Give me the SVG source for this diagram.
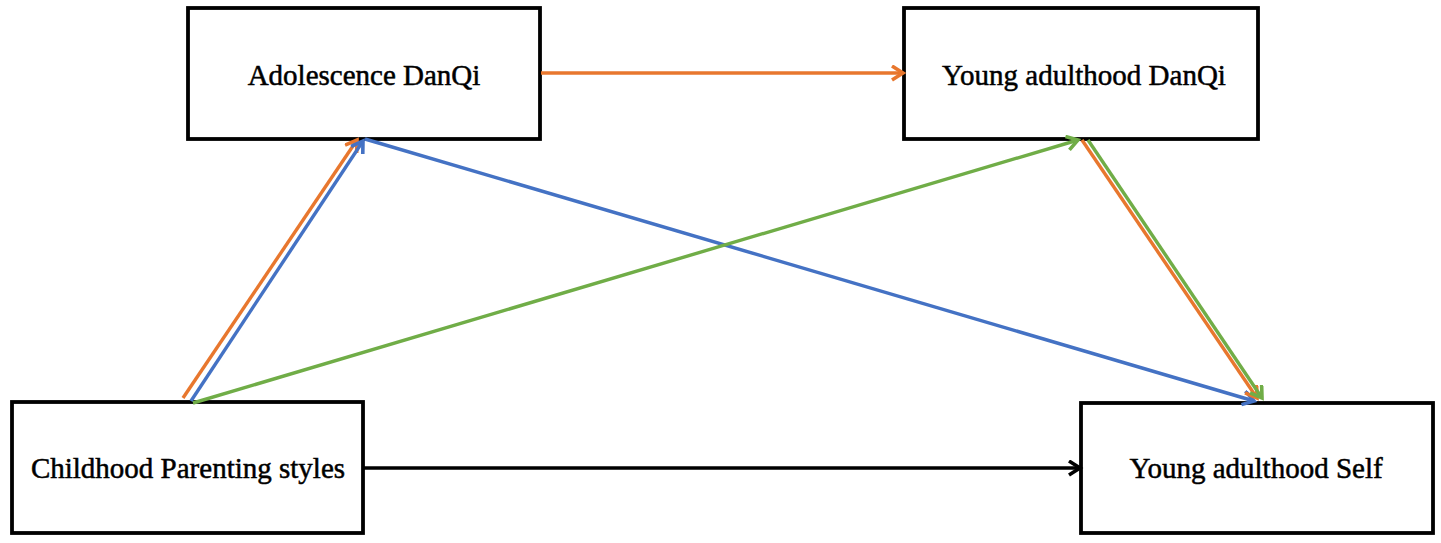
<svg xmlns="http://www.w3.org/2000/svg" width="1441" height="543" viewBox="0 0 1441 543">
<style>
.box{fill:#fff;stroke:#000;stroke-width:3.8}
.lbl{font-family:"Liberation Serif","Times New Roman",serif;font-size:29px;fill:#000;stroke:#000;stroke-width:0.5;text-anchor:middle}
.c{fill:none;stroke-width:3.4}
</style>
<defs>
<marker id="ak" markerUnits="userSpaceOnUse" markerWidth="20" markerHeight="20" refX="14" refY="8" orient="auto"><path d="M3,1 L14,8 L3,15" fill="none" stroke="#000" stroke-width="3.6"/></marker>
<marker id="ao" markerUnits="userSpaceOnUse" markerWidth="20" markerHeight="20" refX="14" refY="8" orient="auto"><path d="M3,1 L14,8 L3,15" fill="none" stroke="#E8772E" stroke-width="3.6"/></marker>
<marker id="ab" markerUnits="userSpaceOnUse" markerWidth="20" markerHeight="20" refX="14" refY="8" orient="auto"><path d="M3,1 L14,8 L3,15" fill="none" stroke="#4472C4" stroke-width="3.6"/></marker>
<marker id="ag" markerUnits="userSpaceOnUse" markerWidth="20" markerHeight="20" refX="14" refY="8" orient="auto"><path d="M3,1 L14,8 L3,15" fill="none" stroke="#70AD47" stroke-width="3.6"/></marker>
</defs>
<rect width="1441" height="543" fill="#fff"/>
<g id="n-adol"><rect class="box" x="188" y="8" width="352" height="131"/><text class="lbl" x="364" y="85">Adolescence DanQi</text></g>
<g id="n-yadq"><rect class="box" x="904" y="8" width="354" height="131"/><text class="lbl" x="1084" y="85">Young adulthood DanQi</text></g>
<g id="n-child"><rect class="box" x="12" y="402" width="351" height="131"/><text class="lbl" x="188" y="478">Childhood Parenting styles</text></g>
<g id="n-self"><rect class="box" x="1081" y="403" width="352" height="130"/><text class="lbl" x="1256" y="478">Young adulthood Self</text></g>
<g id="connectors">
<line class="c" x1="541" y1="73" x2="903" y2="73" stroke="#E8772E" marker-end="url(#ao)"/>
<line class="c" x1="363" y1="468" x2="1080" y2="468" stroke="#000" marker-end="url(#ak)"/>
<line class="c" x1="183" y1="398" x2="357" y2="140" stroke="#E8772E" marker-end="url(#ao)"/>
<line class="c" x1="191" y1="401" x2="363" y2="141" stroke="#4472C4" marker-end="url(#ab)"/>
<line class="c" x1="365" y1="139" x2="1254" y2="401" stroke="#4472C4" marker-end="url(#ab)"/>
<line class="c" x1="193" y1="403" x2="1078" y2="140" stroke="#70AD47" marker-end="url(#ag)"/>
<line class="c" x1="1082" y1="140" x2="1257" y2="398" stroke="#E8772E" marker-end="url(#ao)"/>
<line class="c" x1="1088" y1="140" x2="1262" y2="398" stroke="#70AD47" marker-end="url(#ag)"/>
</g>
</svg>
